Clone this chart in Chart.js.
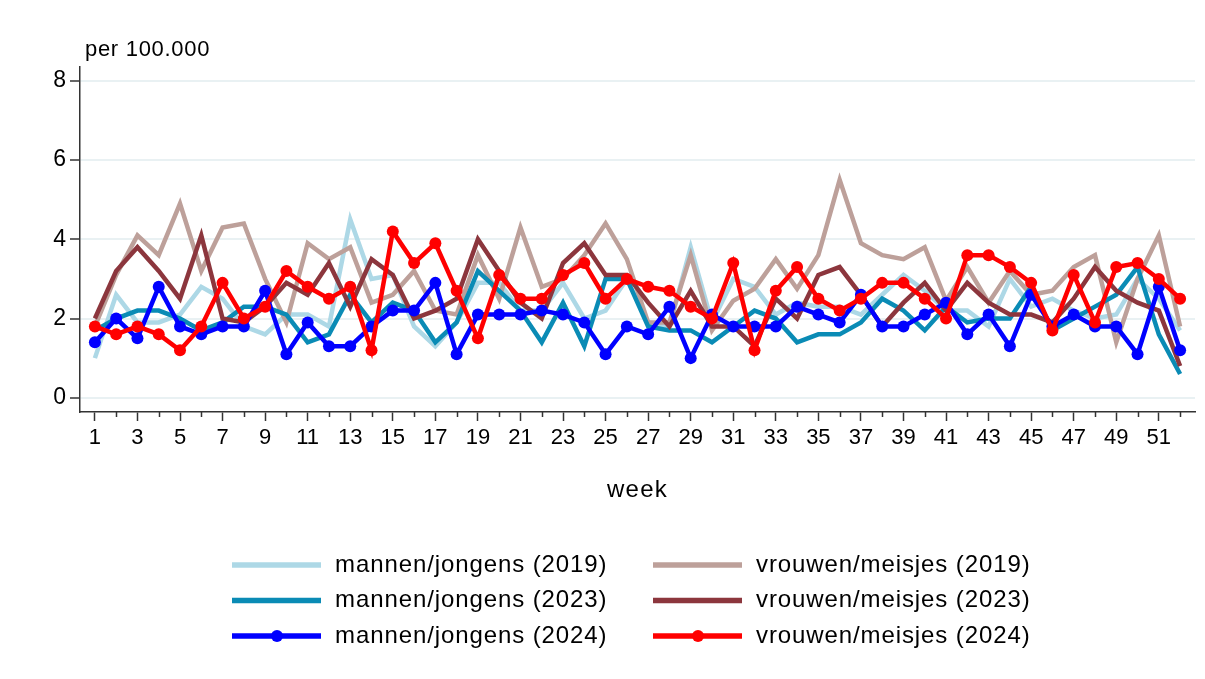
<!DOCTYPE html>
<html>
<head>
<meta charset="utf-8">
<script src="https://cdn.jsdelivr.net/npm/chart.js@4.4.1/dist/chart.umd.min.js"></script>
<style>
  html, body { margin: 0; background: #fff; }
  #wrap { width: 1205px; height: 679px; position: relative; }
</style>
</head>
<body>
<div id="wrap"><canvas id="weekChart"></canvas></div>
<script>
const weeks = [1, 2, 3, 4, 5, 6, 7, 8, 9, 10, 11, 12, 13, 14, 15, 16, 17, 18, 19, 20,
  21, 22, 23, 24, 25, 26, 27, 28, 29, 30, 31, 32, 33, 34, 35, 36, 37, 38, 39, 40,
  41, 42, 43, 44, 45, 46, 47, 48, 49, 50, 51, 52];

const mannen2019 = [1.0, 2.6, 1.9, 1.9, 2.1, 2.8, 2.5, 1.8, 1.6, 2.1, 2.1, 1.8, 4.5, 3.0, 3.1, 1.8, 1.3, 1.9, 2.9, 2.9,
  2.2, 2.2, 2.9, 2.0, 2.2, 3.0, 1.9, 1.8, 3.8, 1.9, 3.0, 2.8, 2.1, 2.4, 2.3, 2.3, 2.1, 2.6, 3.1, 2.7,
  2.2, 2.2, 1.8, 3.0, 2.3, 2.5, 2.2, 2.0, 2.1, 3.0, 2.5, 1.7];
const mannen2023 = [1.7, 2.0, 2.2, 2.2, 2.0, 1.7, 1.9, 2.3, 2.3, 2.1, 1.4, 1.6, 2.6, 1.9, 2.4, 2.2, 1.4, 1.9, 3.2, 2.7,
  2.2, 1.4, 2.4, 1.3, 3.0, 3.0, 1.8, 1.7, 1.7, 1.4, 1.8, 2.2, 2.0, 1.4, 1.6, 1.6, 1.9, 2.5, 2.2, 1.7,
  2.3, 1.9, 2.0, 2.0, 2.8, 1.7, 2.0, 2.3, 2.6, 3.3, 1.6, 0.6];
const mannen2024 = [1.4, 2.0, 1.5, 2.8, 1.8, 1.6, 1.8, 1.8, 2.7, 1.1, 1.9, 1.3, 1.3, 1.8, 2.2, 2.2, 2.9, 1.1, 2.1, 2.1,
  2.1, 2.2, 2.1, 1.9, 1.1, 1.8, 1.6, 2.3, 1.0, 2.1, 1.8, 1.8, 1.8, 2.3, 2.1, 1.9, 2.6, 1.8, 1.8, 2.1,
  2.4, 1.6, 2.1, 1.3, 2.6, 1.8, 2.1, 1.8, 1.8, 1.1, 2.8, 1.2];
const vrouwen2019 = [1.8, 3.1, 4.1, 3.6, 4.9, 3.2, 4.3, 4.4, 3.0, 1.9, 3.9, 3.5, 3.8, 2.4, 2.6, 3.2, 2.2, 2.1, 3.6, 2.5,
  4.3, 2.8, 3.0, 3.6, 4.4, 3.5, 1.9, 1.9, 3.6, 1.7, 2.45, 2.75, 3.5, 2.75, 3.6, 5.5, 3.9, 3.6, 3.5, 3.8,
  2.45, 3.3, 2.4, 3.2, 2.6, 2.7, 3.3, 3.6, 1.4, 3.0, 4.1, 1.8];
const vrouwen2023 = [2.0, 3.2, 3.8, 3.2, 2.5, 4.1, 2.0, 1.9, 2.3, 2.9, 2.6, 3.4, 2.3, 3.5, 3.1, 2.0, 2.2, 2.5, 4.0, 3.2,
  2.4, 2.0, 3.4, 3.9, 3.1, 3.1, 2.4, 1.8, 2.7, 1.8, 1.8, 1.3, 2.5, 2.0, 3.1, 3.3, 2.6, 1.8, 2.4, 2.9,
  2.2, 2.9, 2.4, 2.1, 2.1, 1.9, 2.5, 3.3, 2.7, 2.4, 2.2, 0.8];
const vrouwen2024 = [1.8, 1.6, 1.8, 1.6, 1.2, 1.8, 2.9, 2.0, 2.3, 3.2, 2.8, 2.5, 2.8, 1.2, 4.2, 3.4, 3.9, 2.7, 1.5, 3.1,
  2.5, 2.5, 3.1, 3.4, 2.5, 3.0, 2.8, 2.7, 2.3, 2.0, 3.4, 1.2, 2.7, 3.3, 2.5, 2.2, 2.5, 2.9, 2.9, 2.5,
  2.0, 3.6, 3.6, 3.3, 2.9, 1.7, 3.1, 1.9, 3.3, 3.4, 3.0, 2.5];

const yTicks = [0, 2, 4, 6, 8];
const yTitle = "per 100.000";
const xTitle = "week";

const FONT = "'Liberation Sans', Arial, sans-serif";

function series(label, values, color, order, markers) {
  return {
    label: label,
    data: weeks.map((w, i) => ({ x: w, y: values[i] })),
    borderColor: color,
    backgroundColor: color,
    borderWidth: 4.5,
    pointRadius: markers ? 6 : 0,
    pointHoverRadius: markers ? 6 : 0,
    pointBorderWidth: 0,
    tension: 0,
    order: order
  };
}

// extra text, minor week ticks and the two-column legend
const decorations = {
  id: "decorations",
  afterDraw(chart) {
    const ctx = chart.ctx;
    const area = chart.chartArea;
    const x = chart.scales.x;
    ctx.save();

    // short ticks for the even weeks
    ctx.strokeStyle = "#333";
    ctx.lineWidth = 1.5;
    weeks.filter(w => w % 2 === 0).forEach(w => {
      const px = Math.round(x.getPixelForValue(w)) + 0.5;
      ctx.beginPath();
      ctx.moveTo(px, area.bottom);
      ctx.lineTo(px, area.bottom + 5);
      ctx.stroke();
    });

    ctx.fillStyle = "#000";
    ctx.font = "22px " + FONT;
    ctx.letterSpacing = "0.7px";
    ctx.textAlign = "left";
    ctx.textBaseline = "alphabetic";
    ctx.fillText(yTitle, area.left + 5, 56);

    ctx.font = "24px " + FONT;
    ctx.letterSpacing = "1.2px";
    ctx.textAlign = "center";
    ctx.textBaseline = "middle";
    ctx.fillText(xTitle, (area.left + area.right) / 2, 490);

    // legend: men in the left column, women in the right
    ctx.letterSpacing = "0.9px";
    chart.data.datasets.forEach((ds, i) => {
      const col = Math.floor(i / 3);
      const row = i % 3;
      const x0 = 232 + col * 421;
      const y0 = 565 + row * 35.5;
      ctx.strokeStyle = ds.borderColor;
      ctx.lineWidth = 5.5;
      ctx.beginPath();
      ctx.moveTo(x0, y0);
      ctx.lineTo(x0 + 89, y0);
      ctx.stroke();
      if (ds.pointRadius > 0) {
        ctx.fillStyle = ds.borderColor;
        ctx.beginPath();
        ctx.arc(x0 + 45, y0, 6, 0, Math.PI * 2);
        ctx.fill();
      }
      ctx.fillStyle = "#000";
      ctx.font = "24px " + FONT;
      ctx.textAlign = "left";
      ctx.textBaseline = "middle";
      ctx.fillText(ds.label, x0 + 103, y0);
    });
    ctx.restore();
  }
};

new Chart(document.getElementById("weekChart"), {
  type: "line",
  data: {
    datasets: [
      series("mannen/jongens (2019)", mannen2019, "#add8e6", 5, false),
      series("mannen/jongens (2023)", mannen2023, "#0a8bb5", 3, false),
      series("mannen/jongens (2024)", mannen2024, "#0000ff", 1, true),
      series("vrouwen/meisjes (2019)", vrouwen2019, "#bda09a", 4, false),
      series("vrouwen/meisjes (2023)", vrouwen2023, "#8c363d", 2, false),
      series("vrouwen/meisjes (2024)", vrouwen2024, "#ff0000", 0, true)
    ]
  },
  options: {
    responsive: true,
    maintainAspectRatio: false,
    animation: false,
    layout: { padding: { left: 0, top: 67, right: 10, bottom: 217 } },
    plugins: {
      legend: { display: false },
      tooltip: { enabled: false }
    },
    scales: {
      x: {
        type: "linear",
        min: 0.3,
        max: 52.7,
        afterBuildTicks: s => { s.ticks = weeks.filter(w => w % 2 === 1).map(w => ({ value: w })); },
        afterFit: s => { s.height = 50; },
        border: { display: true, color: "#333", width: 1.5 },
        grid: { drawOnChartArea: false, tickLength: 9, tickColor: "#333", tickWidth: 1.5 },
        ticks: {
          autoSkip: false,
          maxRotation: 0,
          padding: 4,
          color: "#000",
          font: { family: FONT, size: 22 },
          callback: v => String(v)
        }
      },
      y: {
        min: -0.36,
        max: 8.35,
        afterBuildTicks: s => { s.ticks = yTicks.map(v => ({ value: v })); },
        afterFit: s => { s.width = 80; },
        border: { display: true, color: "#333", width: 1.5 },
        grid: { color: "#e9f1f3", lineWidth: 2, tickLength: 10, tickColor: "#333", tickWidth: 1.5 },
        ticks: {
          padding: 4,
          color: "#000",
          font: { family: FONT, size: 23 },
          callback: v => String(v)
        }
      }
    }
  },
  plugins: [decorations]
});
</script>
</body>
</html>
